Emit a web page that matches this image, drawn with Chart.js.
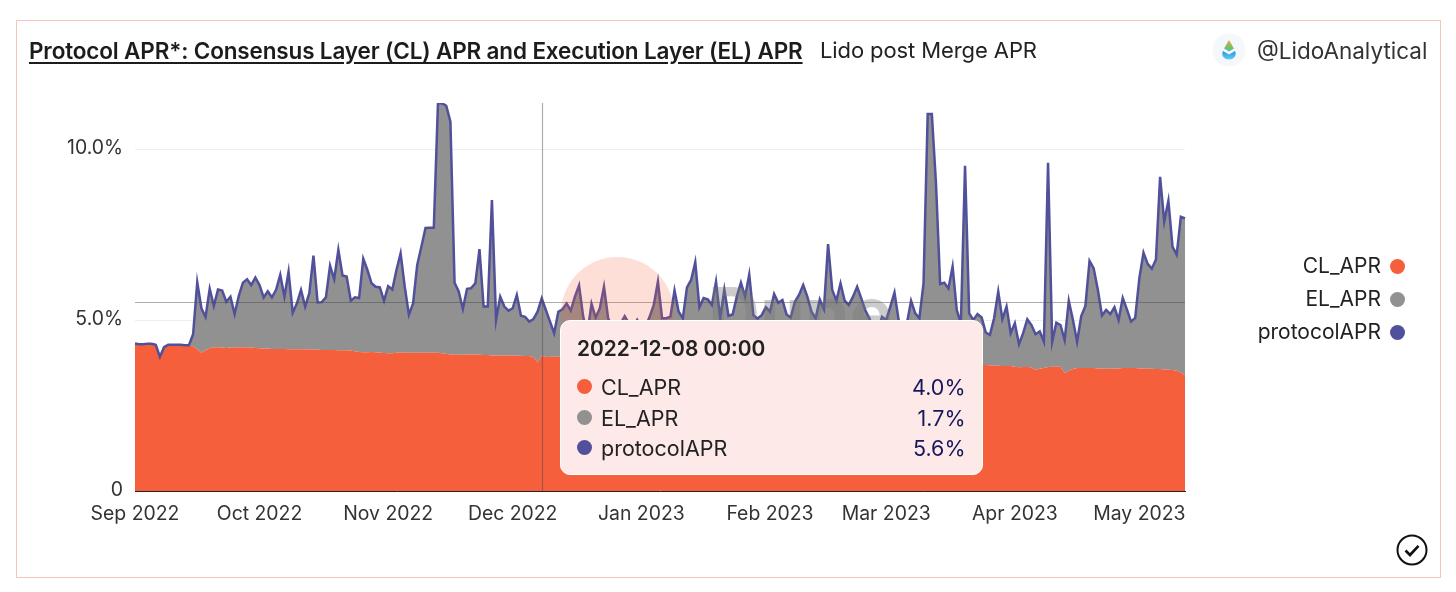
<!DOCTYPE html>
<html><head><meta charset="utf-8">
<script src="https://cdn.jsdelivr.net/npm/chart.js@4"></script>
<style>
html,body{margin:0;padding:0;background:#fff;width:1456px;height:592px;overflow:hidden;font-family:Inter,"Noto Sans",sans-serif;color:#222}
#wrap{position:relative;width:1456px;height:592px}
#frame{position:absolute;left:16px;top:20px;width:1423px;height:556px;border:1.5px solid #f5c5ba;box-sizing:content-box}
canvas{position:absolute;left:0;top:0}
.abs{position:absolute;white-space:nowrap}
#title{left:29px;top:37px;font-size:22.5px;font-weight:600;text-decoration:underline;text-underline-offset:3px;color:#1c1c1c;letter-spacing:-.15px}
#sub{left:820px;top:37px;font-size:22px;color:#222;letter-spacing:-.1px}
#handle{left:1257px;top:37px;font-size:22.5px;color:#333;letter-spacing:0}
#circle{left:561px;top:257px;width:113px;height:113px;border-radius:50%;background:rgba(246,95,60,.2)}
#dune{left:708px;top:269px;font-size:72px;font-weight:700;color:rgba(120,120,120,.38);letter-spacing:0}
#legend div{position:absolute;right:75px;font-size:21px;color:#222;height:24px;line-height:24px;text-align:right}
.dot{position:absolute;width:15px;height:15px;border-radius:50%}
#tip{position:absolute;left:560px;top:320px;width:423px;height:155px;box-sizing:border-box;background:#fde9e8;border:1px solid #fff;border-radius:10px}
#tipTitle{position:absolute;left:16px;top:15px;font-size:20.9px;font-weight:600;color:#222}
.row{position:absolute;left:0;width:100%;height:26px;line-height:26px;font-size:21.5px}
.row .n{position:absolute;left:40px;color:#222}
.row .v{position:absolute;right:16.5px;color:#16165e}
.row .dot{left:16px;top:5px}
</style></head>
<body><div id="wrap">
<div id="frame"></div>
<canvas id="c" width="1456" height="592"></canvas>
<div class="abs" id="circle"></div>
<div class="abs" id="dune">Dune</div>
<div class="abs" id="title">Protocol APR*: Consensus Layer (CL) APR and Execution Layer (EL) APR</div>
<div class="abs" id="sub">Lido post Merge APR</div>
<svg class="abs" style="left:1212px;top:33px" width="34" height="34" viewBox="0 0 34 34">
<defs><linearGradient id="g1" x1="0" y1="0" x2="0" y2="1"><stop offset="0" stop-color="#f6a13a"/><stop offset=".6" stop-color="#7fbf5e"/><stop offset="1" stop-color="#4fb8c9"/></linearGradient>
<linearGradient id="g2" x1="0" y1="0" x2="0" y2="1"><stop offset="0" stop-color="#2f8fe0"/><stop offset="1" stop-color="#5fd0f5"/></linearGradient></defs>
<circle cx="17" cy="17" r="16.5" fill="#f4f8fa"/>
<path d="M17 7 L22 15.5 L17 18.5 L12 15.5 Z" fill="url(#g1)"/>
<path d="M11 18 L17 21.5 L23 18 C25 22 22.5 26.5 17 26.5 C11.5 26.5 9 22 11 18 Z" fill="url(#g2)"/>
</svg>
<div class="abs" id="handle">@LidoAnalytical</div>
<div id="legend"></div>
<div id="tip"><div id="tipTitle"></div><div id="tipRows"></div></div>
<svg class="abs" style="left:1395px;top:533px" width="34" height="34" viewBox="0 0 34 34">
<circle cx="17" cy="17" r="14.5" fill="none" stroke="#111" stroke-width="2"/>
<path d="M10.5 17.5 L15 22 L23.5 12.8" fill="none" stroke="#111" stroke-width="2.6"/>
</svg>
</div>
<script>
const startDate = "2022-09-01";
const dayCount = 254;
const monthTickDates = ["2022-09-01","2022-10-01","2022-11-01","2022-12-01","2023-01-01","2023-02-01","2023-03-01","2023-04-01","2023-05-01"];
const monthTickLabels = ["Sep 2022","Oct 2022","Nov 2022","Dec 2022","Jan 2023","Feb 2023","Mar 2023","Apr 2023","May 2023"];
const yTickValues = [0,5,10];
const yTickLabels = ["0","5.0%","10.0%"];
const seriesNames = ["CL_APR","EL_APR","protocolAPR"];
const seriesColors = ["#f65f3c","#919191","#50509b"];
const hoveredDate = "2022-12-08";
const crosshairValue = 5.53;
const yMax = 11.36;

const clApr = [4.32,4.30,4.30,4.31,4.31,4.28,3.93,4.21,4.28,4.28,4.28,4.28,4.27,4.27,
4.24,4.15,4.05,4.12,4.18,4.21,4.21,4.20,4.19,4.20,4.21,4.20,4.21,4.21,4.20,4.19,4.18,
4.17,4.17,4.16,4.16,4.16,4.16,4.15,4.15,4.15,4.15,
4.15,4.15,4.14,4.14,4.13,4.13,4.13,4.13,4.12,4.12,
4.12,4.11,4.09,4.07,4.06,4.06,4.07,4.06,4.05,4.04,
4.03,4.03,4.05,4.06,4.05,4.05,4.05,4.05,4.05,4.05,
4.05,4.05,4.05,4.03,4.02,4.00,3.99,3.99,3.99,4.00,
4.00,4.00,3.99,3.98,3.98,3.97,3.97,3.97,3.97,3.97,
3.97,3.96,3.96,3.95,3.95,3.92,3.76,3.96,3.92,3.93,
3.93,3.93,3.94,3.92,3.92,3.91,3.91,3.90,3.90,3.90,
3.89,3.89,3.88,3.88,3.88,3.87,3.87,3.86,3.86,3.86,
3.85,3.85,3.84,3.84,3.83,3.83,3.83,3.82,3.82,3.81,
3.81,3.80,3.80,3.80,3.79,3.79,3.78,3.78,3.78,3.77,
3.77,3.77,3.76,3.76,3.76,3.75,3.75,3.75,3.74,3.74,
3.74,3.73,3.73,3.73,3.72,3.72,3.72,3.71,3.71,3.71,
3.71,3.70,3.70,3.70,3.70,3.70,3.69,3.69,3.69,3.69,
3.69,3.69,3.68,3.68,3.68,3.68,3.68,3.68,3.68,3.67,
3.67,3.67,3.67,3.67,3.68,3.68,3.68,3.68,3.68,3.68,
3.68,3.68,3.68,3.68,3.68,3.68,3.68,3.69,3.69,3.69,
3.69,3.69,3.69,3.69,3.69,3.68,3.67,3.67,3.66,3.66,
3.66,3.64,3.62,3.63,3.63,3.62,3.54,3.58,3.60,3.63,
3.64,3.64,3.64,3.45,3.52,3.57,3.60,3.60,3.60,3.60,
3.60,3.59,3.59,3.58,3.58,3.59,3.59,3.60,3.60,3.60,
3.60,3.59,3.59,3.58,3.58,3.57,3.57,3.56,3.55,3.54,3.52,3.47,3.38];

const elApr = [0,0,0,0,0,0,0,0,0,0,0,0,0,0,
.35,1.96,1.30,.98,1.74,1.21,1.69,1.67,1.35,1.49,.97,1.51,1.89,1.99,1.83,2.06,1.85,
1.50,1.68,1.51,1.73,2.17,1.53,2.27,1.07,1.34,1.74,
1.25,1.64,2.75,1.38,1.40,1.54,2.47,2.07,2.94,2.19,
2.16,1.46,1.58,1.58,2.74,2.41,2.01,1.92,1.91,1.53,
1.97,1.87,2.42,2.90,1.93,1.11,1.44,2.57,3.10,3.65,
3.66,3.66,7.30,7.32,7.26,6.81,2.11,1.85,1.34,1.92,
1.94,2.08,3.09,1.42,1.42,4.55,1.04,1.72,1.43,1.31,
1.38,1.78,1.17,1.15,1.01,1.11,1.49,1.68,1.38,1.03,
.69,1.32,1.38,1.57,1.36,1.78,2.11,1.20,.72,1.58,
1.19,1.46,2.10,1.18,.93,.84,1.04,1.26,1.05,.95,
1.16,.91,.97,1.26,1.62,2.30,1.23,1.24,1.28,2.06,
1.44,1.26,2.16,2.38,2.91,1.59,1.87,1.83,1.67,2.36,
1.29,2.13,1.37,1.41,1.93,2.35,1.94,2.59,1.41,1.31,
1.41,1.65,1.52,2.04,1.79,1.87,1.45,1.37,1.83,2.03,
2.32,1.99,1.55,1.36,1.91,1.63,3.54,2.20,1.88,2.39,
1.88,1.76,2.01,2.30,1.96,1.60,1.36,1.03,1.03,1.43,
1.34,1.73,2.14,1.34,.84,1.23,1.89,1.52,1.38,2.40,
7.36,7.36,5.33,2.38,2.42,2.25,2.89,1.61,1.22,5.83,
1.51,1.32,1.49,1.39,.95,.89,1.39,2.17,1.37,1.74,
.96,1.27,.68,.99,1.40,1.24,1.05,1.09,.77,5.98,
.73,1.29,1.22,.97,2.05,1.44,.77,1.52,1.82,3.14,
2.92,2.30,1.55,1.72,1.60,1.79,1.42,2.05,1.72,1.36,
1.47,2.64,3.39,3.07,2.93,3.21,5.63,4.33,4.95,3.61,3.40,4.56,4.60];

const protocolApr = [4.32,4.30,4.30,4.31,4.31,4.28,3.93,4.21,4.28,4.28,4.28,4.28,4.27,4.27,
4.59,6.11,5.35,5.10,5.92,5.42,5.90,5.87,5.54,5.69,5.18,5.71,6.10,6.20,6.03,6.25,6.03,
5.67,5.85,5.67,5.89,6.33,5.69,6.42,5.22,5.49,5.89,
5.40,5.79,6.89,5.52,5.53,5.67,6.60,6.20,7.06,6.31,
6.28,5.57,5.67,5.65,6.80,6.47,6.08,5.98,5.96,5.57,
6.00,5.90,6.47,6.96,5.98,5.16,5.49,6.62,7.15,7.70,
7.71,7.71,11.35,11.35,11.28,10.81,6.10,5.84,5.33,5.92,
5.94,6.08,7.08,5.40,5.40,8.52,5.01,5.69,5.40,5.28,
5.35,5.74,5.13,5.10,4.96,5.03,5.25,5.64,5.30,4.96,
4.62,5.25,5.32,5.49,5.28,5.69,6.02,5.10,4.62,5.48,
5.08,5.35,5.98,5.06,4.81,4.71,4.91,5.12,4.91,4.81,
5.01,4.76,4.81,5.10,5.45,6.13,5.06,5.06,5.10,5.87,
5.25,5.06,5.96,6.18,6.70,5.38,5.65,5.61,5.45,6.13,
5.06,5.90,5.13,5.17,5.69,6.10,5.69,6.34,5.15,5.05,
5.15,5.38,5.25,5.77,5.51,5.59,5.17,5.08,5.54,5.74,
6.03,5.69,5.25,5.06,5.61,5.33,7.23,5.89,5.57,6.08,
5.57,5.45,5.69,5.98,5.64,5.28,5.04,4.71,4.71,5.10,
5.01,5.40,5.81,5.01,4.52,4.91,5.57,5.20,5.06,6.08,
11.04,11.04,9.01,6.06,6.10,5.93,6.57,5.30,4.91,9.52,
5.20,5.01,5.18,5.08,4.64,4.57,5.06,5.84,5.03,5.40,
4.62,4.91,4.30,4.62,5.03,4.86,4.59,4.67,4.37,9.61,
4.37,4.93,4.86,4.42,5.57,5.01,4.37,5.12,5.42,6.74,
6.52,5.89,5.14,5.30,5.18,5.38,5.01,5.65,5.32,4.96,
5.07,6.23,6.98,6.65,6.51,6.78,9.20,7.89,8.50,7.15,6.92,8.03,7.98];

const labels = [];
for (let i = 0; i < dayCount; i++) {
  labels.push(new Date(Date.parse(startDate + "T00:00:00Z") + i * 864e5).toISOString().slice(0, 10));
}

// HTML legend built from the series names and colours
const legendEl = document.getElementById('legend');
[266, 299, 332].forEach((cy, i) => {
  const t = document.createElement('div');
  t.textContent = seriesNames[i];
  t.style.top = (cy - 12) + 'px';
  legendEl.appendChild(t);
  const d = document.createElement('span');
  d.className = 'dot';
  d.style.cssText = `left:1390px;top:${cy - 7}px;background:${seriesColors[i]}`;
  legendEl.appendChild(d);
});

const crosshair = {
  id: 'crosshair',
  afterDatasetsDraw(chart) {
    const {ctx, chartArea: a, scales: {x, y}} = chart;
    const px = x.getPixelForValue(labels.indexOf(hoveredDate));
    const py = y.getPixelForValue(crosshairValue);
    ctx.save();
    ctx.strokeStyle = 'rgba(70,70,70,.45)';
    ctx.lineWidth = 1.2;
    ctx.beginPath();
    ctx.moveTo(Math.round(px) + .5, a.top);
    ctx.lineTo(Math.round(px) + .5, a.bottom);
    ctx.moveTo(a.left, Math.round(py) + .5);
    ctx.lineTo(a.right, Math.round(py) + .5);
    ctx.stroke();
    ctx.restore();
  }
};

function renderTip({tooltip}) {
  if (!tooltip.dataPoints || !tooltip.dataPoints.length) return;
  document.getElementById('tipTitle').textContent = tooltip.dataPoints[0].label + ' 00:00';
  document.getElementById('tipRows').innerHTML = tooltip.dataPoints.map((p, i) =>
    `<div class="row" style="top:${53 + i * 30.5}px"><span class="dot" style="background:${seriesColors[i]}"></span>` +
    `<span class="n">${seriesNames[i]}</span><span class="v">${p.parsed.y.toFixed(1)}%</span></div>`).join('');
}

const font = {family: 'Inter, "Noto Sans", sans-serif', size: 19.4};
const base = {pointRadius: 0, pointHoverRadius: 0, tension: 0};
const chart = new Chart(document.getElementById('c'), {
  type: 'line',
  data: {
    labels,
    datasets: [
      {...base, label: seriesNames[0], data: clApr, stack: 'area', fill: 'origin', backgroundColor: seriesColors[0], borderColor: seriesColors[0], borderWidth: 0, order: 2},
      {...base, label: seriesNames[1], data: elApr, stack: 'area', fill: '-1', backgroundColor: seriesColors[1], borderColor: seriesColors[1], borderWidth: 0, order: 2},
      {...base, label: seriesNames[2], data: protocolApr, stack: 'line', fill: false, borderColor: seriesColors[2], backgroundColor: seriesColors[2], borderWidth: 2.5, borderJoinStyle: 'miter', order: 1}
    ]
  },
  plugins: [crosshair],
  options: {
    responsive: false,
    animation: false,
    events: [],
    layout: {padding: {top: 103, right: 271, left: 0, bottom: 0}},
    plugins: {legend: {display: false}, title: {display: false}, tooltip: {enabled: false, external: renderTip}},
    scales: {
      x: {
        type: 'category',
        offset: false,
        stacked: true,
        afterBuildTicks(s) { s.ticks = s.ticks.filter(t => monthTickDates.includes(labels[t.value])); },
        afterFit(s) { s.height = 101; },
        grid: {display: false, drawTicks: false},
        border: {display: true, color: '#222', width: 1, z: 1},
        ticks: {
          autoSkip: false, maxRotation: 0, padding: 12, color: '#333', font,
          callback(v) { return monthTickLabels[monthTickDates.indexOf(labels[v])]; }
        }
      },
      y: {
        stacked: true,
        min: 0,
        max: yMax,
        afterBuildTicks(s) { s.ticks = yTickValues.map(value => ({value})); },
        afterFit(s) { s.width = 135; },
        grid: {color: '#eeeeee', lineWidth: 1, drawTicks: false},
        border: {display: false},
        ticks: {
          padding: 12, color: '#333', font, labelOffset: -1,
          callback(v) { return yTickLabels[yTickValues.indexOf(v)]; }
        }
      }
    }
  }
});
const idx = labels.indexOf(hoveredDate);
chart.tooltip.setActiveElements([0, 1, 2].map(datasetIndex => ({datasetIndex, index: idx})), {x: 0, y: 0});
</script>
</body></html>
